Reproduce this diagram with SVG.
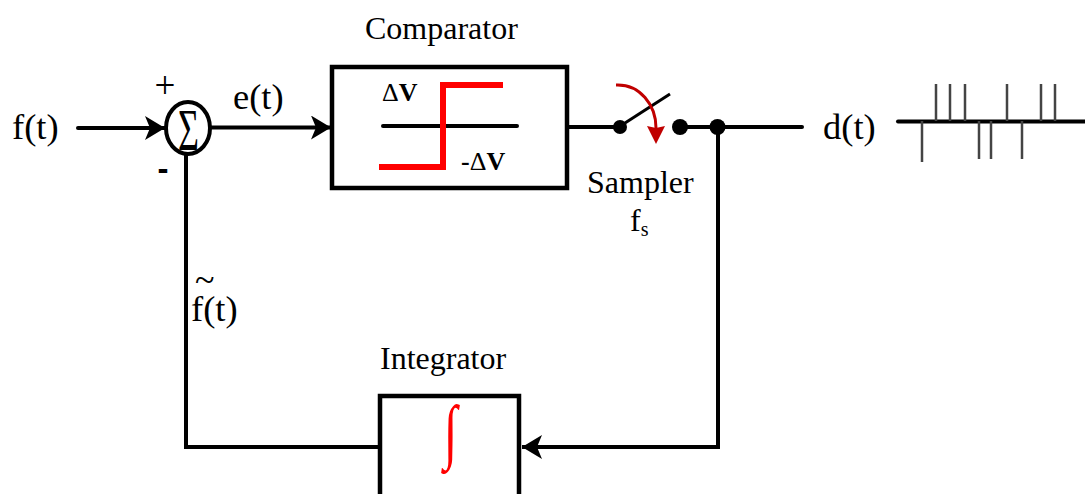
<svg xmlns="http://www.w3.org/2000/svg" width="1085" height="494" viewBox="0 0 1085 494">
<style>
text{font-family:"Liberation Serif","Times New Roman",serif;fill:#000}
.l{font-size:36.500px}
.m{font-size:32px}
.b{font-size:26px}
.bv{font-weight:bold}
.w{fill:none;stroke:#000;stroke-width:4}
.box{fill:#fff;stroke:#000;stroke-width:4.500}
.p{stroke:#444;stroke-width:2.500;fill:none}
</style>
<defs>
<marker id="a" markerUnits="userSpaceOnUse" markerWidth="20" markerHeight="24" refX="20" refY="12" orient="auto"><path d="M0 0L20 12L0 24L5 12Z" fill="#000"/></marker>
<marker id="r" markerUnits="userSpaceOnUse" markerWidth="19" markerHeight="20" refX="2" refY="10" orient="auto"><path d="M0 1L18 10L0 19L2 10Z" fill="#c00000"/></marker>
</defs>
<g id="connectors">
<path class="w" stroke-linecap="round" d="M78 128H165" marker-end="url(#a)"/>
<path class="w" d="M210 127.500H331" marker-end="url(#a)"/>
<path class="w" d="M567 127H620"/>
<path class="w" d="M680 127H802" stroke-linecap="round"/>
<path class="w" d="M718 127V447H522" marker-end="url(#a)"/>
<path class="w" d="M186 154V447H380"/>
</g>
<g id="sum">
<ellipse cx="188" cy="128" rx="22" ry="26" fill="#fff" stroke="#000" stroke-width="4"/>
<text transform="translate(188.500 150) scale(1 1.650)" text-anchor="middle" style="font-size:36px">Σ</text>
</g>
<g id="plus"><text x="165" y="98" text-anchor="middle" style="font-size:37px">+</text></g>
<g id="minus"><text x="163" y="180" text-anchor="middle" style="font-family:'Liberation Sans',sans-serif;font-size:33px;font-weight:bold">-</text></g>
<g id="input"><text class="l" x="12" y="139">f(t)</text></g>
<g id="error"><text class="l" x="233" y="109">e(t)</text></g>
<g id="comparator">
<text class="m" x="365" y="39">Comparator</text>
<rect class="box" x="332" y="67" width="235" height="121"/>
<path d="M383 126H517" fill="none" stroke="#000" stroke-width="4" stroke-linecap="round"/>
<path d="M379 167H443V85H503" fill="none" stroke="#f00" stroke-width="6"/>
<text class="b" x="382" y="101">Δ<tspan class="bv">V</tspan></text>
<text class="b" x="461" y="170"><tspan class="bv">-</tspan>Δ<tspan class="bv">V</tspan></text>
</g>
<g id="sampler">
<circle cx="620" cy="127" r="7" fill="#000"/>
<circle cx="680" cy="127" r="8" fill="#000"/>
<circle cx="717.500" cy="127" r="8" fill="#000"/>
<path d="M625 123L670 94" fill="none" stroke="#000" stroke-width="3"/>
<path d="M616 85C640 84 656 105 656 128" fill="none" stroke="#c00000" stroke-width="3" marker-end="url(#r)"/>
<text class="m" x="587" y="193">Sampler</text>
<text class="m" x="630" y="231">f<tspan font-size="20" dy="5">s</tspan></text>
</g>
<g id="output">
<text class="l" x="823" y="139">d(t)</text>
<path d="M898 121.500H1085" fill="none" stroke="#000" stroke-width="4" stroke-linecap="round"/>
<path class="p" d="M936 121V84M950 121V84M965 121V84M1007 121V84M1041 121V84M1055 121V84M922 121V162M979 121V159M991 121V159M1022 121V159"/>
</g>
<g id="feedback">
<text><tspan x="195" y="292" style="font-size:36px">~</tspan><tspan class="l" x="191" y="321">f(t)</tspan></text>
</g>
<g id="integrator">
<text class="m" x="380" y="369">Integrator</text>
<path d="M380 494V396H519V494" fill="#fff" stroke="#000" stroke-width="4.500"/>
<text transform="translate(450.500 455) scale(.8 1.150)" text-anchor="middle" style="font-size:62px;fill:#f00">∫</text>
</g>
</svg>
